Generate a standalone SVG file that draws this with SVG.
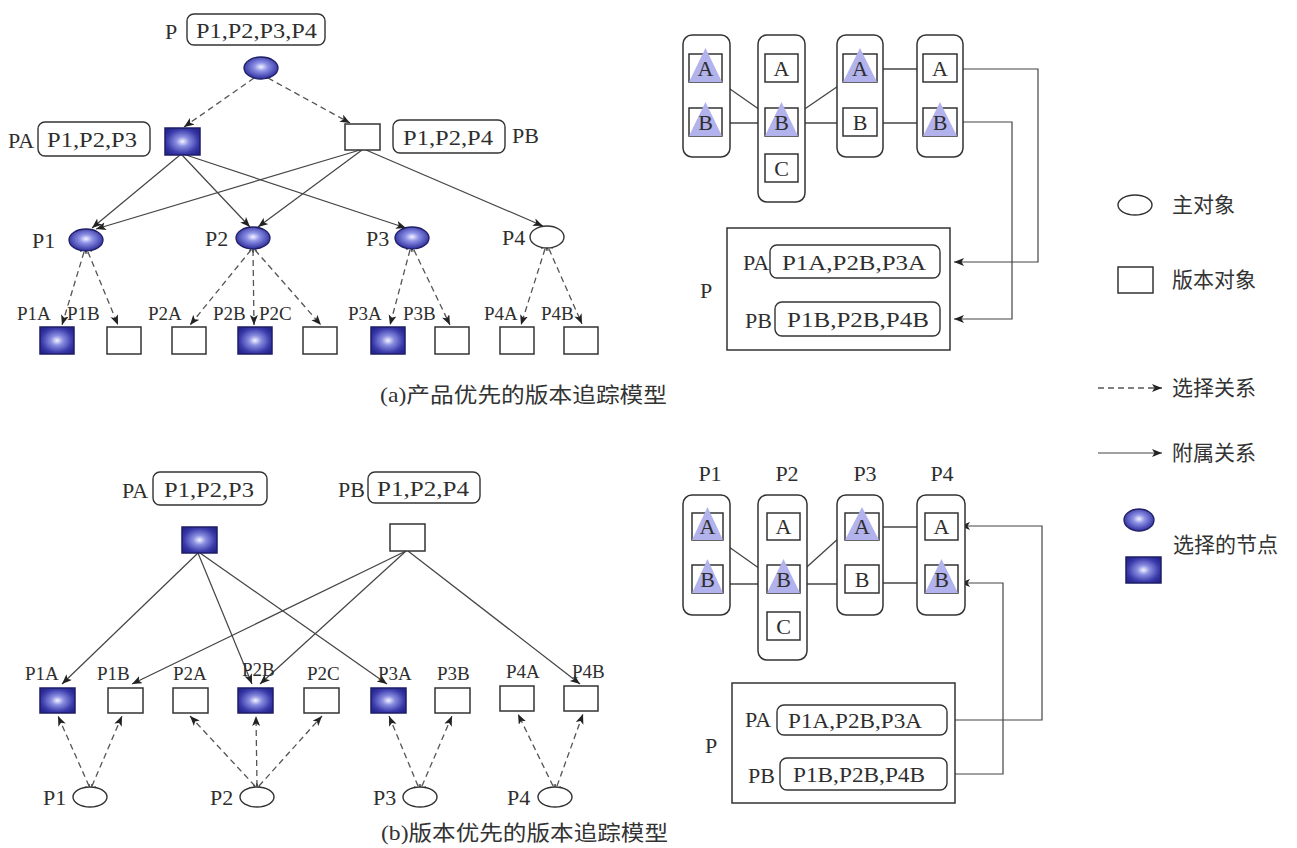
<svg xmlns="http://www.w3.org/2000/svg" width="1297" height="848" viewBox="0 0 1297 848">
<defs>
<style>
.t{font-family:"Liberation Serif","Noto Sans CJK SC",serif;fill:#2e2e2e}
.lb{font-size:19px}
.bx{font-size:22px}
.cn{font-family:"Liberation Serif","Noto Sans CJK SC",sans-serif;font-size:21px;fill:#333}
.m{text-anchor:middle}
.vb{fill:#fff;stroke:#333;stroke-width:1.5}
.sr{fill:url(#gR);stroke:#1e1e66;stroke-width:1.5}
.se{fill:url(#gE);stroke:#1e1e66;stroke-width:1.3}
.we{fill:#fff;stroke:#333;stroke-width:1.4}
.rb{fill:none;stroke:#333;stroke-width:1.4}
.col{fill:#fff;stroke:#333;stroke-width:1.5}
.tri{fill:#b2b2ec}
.sl{fill:none;stroke:#444;stroke-width:1.2;marker-end:url(#ar)}
.dl{fill:none;stroke:#555;stroke-width:1.3;stroke-dasharray:6 4;marker-end:url(#ar)}
.db{fill:none;stroke:#555;stroke-width:1.3;stroke-dasharray:6 4;marker-end:url(#ar);marker-start:url(#ca)}
.ln{fill:none;stroke:#444;stroke-width:1.3}
.pl{fill:none;stroke:#444;stroke-width:1.2;marker-end:url(#ar)}
</style>
<radialGradient id="gE" cx="50%" cy="45%" r="55%">
<stop offset="0" stop-color="#f4f4ff"/><stop offset="0.35" stop-color="#8e92e6"/><stop offset="1" stop-color="#2c2c9c"/>
</radialGradient>
<radialGradient id="gR" cx="50%" cy="50%" r="60%">
<stop offset="0" stop-color="#f4f4ff"/><stop offset="0.3" stop-color="#8a8ee0"/><stop offset="0.75" stop-color="#3a3aaa"/><stop offset="1" stop-color="#26268e"/>
</radialGradient>
<marker id="ar" markerUnits="userSpaceOnUse" markerWidth="11" markerHeight="9" refX="10" refY="4" orient="auto">
<path d="M0,0 L10,4 L0,8 L2.5,4 z" fill="#222"/>
</marker>
<marker id="ca" markerUnits="userSpaceOnUse" markerWidth="9" markerHeight="8" refX="1" refY="3.5" orient="auto-start-reverse">
<path d="M0,0 L7,3.5 L0,7" fill="none" stroke="#444" stroke-width="1"/>
</marker>
</defs>
<rect width="1297" height="848" fill="#fff"/>

<!-- connectors -->
<g id="connectors">
<!-- (a) left -->
<line class="dl" x1="254" y1="78" x2="184" y2="127"/>
<line class="dl" x1="268" y1="78" x2="350" y2="123"/>
<line class="sl" x1="180" y1="155" x2="92" y2="228"/>
<line class="sl" x1="182" y1="155" x2="250" y2="227"/>
<line class="sl" x1="186" y1="155" x2="406" y2="228"/>
<line class="sl" x1="360" y1="150" x2="96" y2="229"/>
<line class="sl" x1="362" y1="150" x2="258" y2="227"/>
<line class="sl" x1="366" y1="150" x2="543" y2="226"/>
<line class="db" x1="84" y1="252" x2="62" y2="325"/>
<line class="db" x1="88" y1="252" x2="118" y2="325"/>
<line class="db" x1="251" y1="250" x2="190" y2="325"/>
<line class="db" x1="253" y1="250" x2="254" y2="325"/>
<line class="db" x1="255" y1="250" x2="321" y2="325"/>
<line class="db" x1="410" y1="250" x2="390" y2="325"/>
<line class="db" x1="414" y1="250" x2="450" y2="325"/>
<line class="db" x1="545" y1="249" x2="521" y2="325"/>
<line class="db" x1="549" y1="249" x2="582" y2="324"/>
<!-- (a) right -->
<line class="ln" x1="720" y1="82" x2="770" y2="117"/>
<line class="ln" x1="720" y1="123" x2="767" y2="123"/>
<line class="ln" x1="793" y1="117" x2="847" y2="80"/>
<line class="ln" x1="797" y1="123" x2="845" y2="123"/>
<line class="ln" x1="877" y1="123" x2="925" y2="123"/>
<line class="ln" x1="875" y1="69" x2="925" y2="69"/>
<polyline class="pl" points="957,69 1038,69 1038,262 954,262"/>
<polyline class="pl" points="957,122 1012,122 1012,319 954,319"/>
<!-- (b) left -->
<line class="sl" x1="198" y1="553" x2="62" y2="684"/>
<line class="sl" x1="198" y1="553" x2="252" y2="684"/>
<line class="sl" x1="200" y1="553" x2="387" y2="684"/>
<line class="sl" x1="406" y1="551" x2="132" y2="684"/>
<line class="sl" x1="406" y1="551" x2="260" y2="684"/>
<line class="sl" x1="408" y1="551" x2="580" y2="684"/>
<line class="db" x1="89" y1="786" x2="58" y2="716"/>
<line class="db" x1="92" y1="786" x2="122" y2="716"/>
<line class="db" x1="255" y1="786" x2="190" y2="716"/>
<line class="db" x1="257" y1="786" x2="256" y2="716"/>
<line class="db" x1="259" y1="786" x2="322" y2="716"/>
<line class="db" x1="418" y1="786" x2="389" y2="716"/>
<line class="db" x1="422" y1="786" x2="452" y2="716"/>
<line class="db" x1="553" y1="786" x2="518" y2="714"/>
<line class="db" x1="557" y1="786" x2="583" y2="714"/>
<!-- (b) right -->
<line class="ln" x1="722" y1="542" x2="770" y2="576"/>
<line class="ln" x1="723" y1="584" x2="767" y2="584"/>
<line class="ln" x1="798" y1="575" x2="850" y2="528"/>
<line class="ln" x1="800" y1="584" x2="846" y2="584"/>
<line class="ln" x1="879" y1="583" x2="925" y2="583"/>
<line class="ln" x1="878" y1="527" x2="925" y2="527"/>
<polyline class="pl" points="947,720 1042,720 1042,526 960,526"/>
<polyline class="pl" points="947,774 1003,774 1003,583 960,583"/>
</g>

<!-- (a) left nodes -->
<g id="a-P"><text class="t bx" x="165" y="39">P</text><rect class="rb" x="187" y="14" width="138" height="31" rx="7"/><text class="t bx" x="196" y="38" textLength="121" lengthAdjust="spacingAndGlyphs">P1,P2,P3,P4</text><ellipse class="se" cx="261" cy="68" rx="17" ry="11"/></g>
<g id="a-PA"><text class="t bx" x="8" y="148">PA</text><rect class="rb" x="38" y="122" width="112" height="34" rx="7"/><text class="t bx" x="47" y="147" textLength="90" lengthAdjust="spacingAndGlyphs">P1,P2,P3</text><rect class="sr" x="165" y="128" width="35" height="27"/></g>
<g id="a-PB"><rect class="vb" x="345" y="124" width="35" height="26"/><rect class="rb" x="393" y="120" width="112" height="33" rx="7"/><text class="t bx" x="403" y="145" textLength="90" lengthAdjust="spacingAndGlyphs">P1,P2,P4</text><text class="t bx" x="512" y="143">PB</text></g>
<g id="a-P1"><text class="t bx" x="32" y="248">P1</text><ellipse class="se" cx="86" cy="240" rx="17" ry="11"/></g>
<g id="a-P2"><text class="t bx" x="205" y="246">P2</text><ellipse class="se" cx="253" cy="238" rx="17" ry="11"/></g>
<g id="a-P3"><text class="t bx" x="366" y="246">P3</text><ellipse class="se" cx="412" cy="238" rx="17" ry="11"/></g>
<g id="a-P4"><text class="t bx" x="502" y="245">P4</text><ellipse class="we" cx="547" cy="237" rx="17" ry="11"/></g>
<g id="a-P1A"><text class="t lb" x="17" y="320">P1A</text><rect class="sr" x="40" y="327" width="34" height="27"/></g>
<g id="a-P1B"><text class="t lb" x="67" y="320">P1B</text><rect class="vb" x="107" y="327" width="34" height="27"/></g>
<g id="a-P2A"><text class="t lb" x="148" y="320">P2A</text><rect class="vb" x="172" y="327" width="34" height="27"/></g>
<g id="a-P2B"><text class="t lb" x="213" y="320">P2B</text><rect class="sr" x="238" y="327" width="34" height="27"/></g>
<g id="a-P2C"><text class="t lb" x="259" y="320">P2C</text><rect class="vb" x="303" y="327" width="34" height="27"/></g>
<g id="a-P3A"><text class="t lb" x="348" y="320">P3A</text><rect class="sr" x="371" y="327" width="34" height="27"/></g>
<g id="a-P3B"><text class="t lb" x="403" y="320">P3B</text><rect class="vb" x="435" y="327" width="34" height="27"/></g>
<g id="a-P4A"><text class="t lb" x="484" y="320">P4A</text><rect class="vb" x="500" y="327" width="34" height="27"/></g>
<g id="a-P4B"><text class="t lb" x="541" y="320">P4B</text><rect class="vb" x="564" y="327" width="34" height="27"/></g>
<text class="cn" x="380" y="402" textLength="287" lengthAdjust="spacingAndGlyphs">(a)产品优先的版本追踪模型</text>

<!-- (a) right -->
<g id="a-col1"><text class="t bx m" x="708" y="53">P1</text><rect class="col" x="683" y="35" width="47" height="122" rx="9"/>
<rect class="vb" x="689" y="54" width="33" height="28"/><polygon class="tri" points="705.5,48 689,82 722,82"/><text class="t bx m" x="705.5" y="76">A</text>
<rect class="vb" x="689" y="108" width="33" height="28"/><polygon class="tri" points="705.5,102 689,136 722,136"/><text class="t bx m" x="705.5" y="130">B</text></g>
<g id="a-col2"><text class="t bx m" x="783" y="53">P2</text><rect class="col" x="758" y="35" width="47" height="167" rx="9"/>
<rect class="vb" x="765" y="54" width="33" height="28"/><text class="t bx m" x="781.5" y="76">A</text>
<rect class="vb" x="765" y="108" width="33" height="28"/><polygon class="tri" points="781.5,102 765,136 798,136"/><text class="t bx m" x="781.5" y="130">B</text>
<rect class="vb" x="765" y="154" width="33" height="28"/><text class="t bx m" x="781.5" y="176">C</text></g>
<g id="a-col3"><text class="t bx m" x="861" y="53">P3</text><rect class="col" x="837" y="35" width="46" height="122" rx="9"/>
<rect class="vb" x="843" y="54" width="34" height="28"/><polygon class="tri" points="860,48 843,82 877,82"/><text class="t bx m" x="860" y="76">A</text>
<rect class="vb" x="843" y="108" width="34" height="28"/><text class="t bx m" x="860" y="130">B</text></g>
<g id="a-col4"><text class="t bx m" x="940" y="53">P4</text><rect class="col" x="917" y="35" width="46" height="122" rx="9"/>
<rect class="vb" x="923" y="54" width="34" height="28"/><text class="t bx m" x="940" y="76">A</text>
<rect class="vb" x="923" y="108" width="34" height="28"/><polygon class="tri" points="940,102 923,136 957,136"/><text class="t bx m" x="940" y="130">B</text></g>
<g id="a-Pbox"><rect class="vb" x="727" y="228" width="223" height="122"/><text class="t bx" x="700" y="298">P</text>
<text class="t bx" x="743" y="270">PA</text><rect class="rb" x="770" y="245" width="170" height="33" rx="7"/><text class="t bx" x="782" y="270" textLength="144" lengthAdjust="spacingAndGlyphs">P1A,P2B,P3A</text>
<text class="t bx" x="745" y="328">PB</text><rect class="rb" x="775" y="302" width="165" height="34" rx="7"/><text class="t bx" x="787" y="327" textLength="142" lengthAdjust="spacingAndGlyphs">P1B,P2B,P4B</text></g>

<!-- legend -->
<g id="legend">
<ellipse class="we" cx="1135" cy="205" rx="17" ry="10"/><text class="cn" x="1172" y="212">主对象</text>
<rect class="vb" x="1118" y="267" width="35" height="26"/><text class="cn" x="1172" y="287">版本对象</text>
<line class="dl" x1="1098" y1="388" x2="1162" y2="388"/><text class="cn" x="1172" y="395">选择关系</text>
<line class="sl" x1="1098" y1="453" x2="1162" y2="453"/><text class="cn" x="1172" y="460">附属关系</text>
<ellipse class="se" cx="1139" cy="520" rx="15" ry="11"/><rect class="sr" x="1126" y="557" width="35" height="26"/><text class="cn" x="1173" y="552">选择的节点</text>
</g>

<!-- (b) left -->
<g id="b-PA"><text class="t bx" x="122" y="498">PA</text><rect class="rb" x="153" y="472" width="114" height="33" rx="7"/><text class="t bx" x="164" y="497" textLength="90" lengthAdjust="spacingAndGlyphs">P1,P2,P3</text><rect class="sr" x="182" y="527" width="35" height="26"/></g>
<g id="b-PB"><text class="t bx" x="338" y="497">PB</text><rect class="rb" x="368" y="472" width="112" height="31" rx="7"/><text class="t bx" x="377" y="496" textLength="92" lengthAdjust="spacingAndGlyphs">P1,P2,P4</text><rect class="vb" x="390" y="524" width="35" height="27"/></g>
<g id="b-P1A"><text class="t lb" x="25" y="680">P1A</text><rect class="sr" x="40" y="688" width="35" height="25"/></g>
<g id="b-P1B"><text class="t lb" x="97" y="680">P1B</text><rect class="vb" x="108" y="688" width="35" height="25"/></g>
<g id="b-P2A"><text class="t lb" x="173" y="680">P2A</text><rect class="vb" x="173" y="688" width="35" height="25"/></g>
<g id="b-P2B"><text class="t lb" x="242" y="676">P2B</text><rect class="sr" x="238" y="688" width="35" height="25"/></g>
<g id="b-P2C"><text class="t lb" x="307" y="680">P2C</text><rect class="vb" x="304" y="688" width="35" height="25"/></g>
<g id="b-P3A"><text class="t lb" x="378" y="680">P3A</text><rect class="sr" x="371" y="688" width="35" height="25"/></g>
<g id="b-P3B"><text class="t lb" x="437" y="680">P3B</text><rect class="vb" x="435" y="688" width="35" height="25"/></g>
<g id="b-P4A"><text class="t lb" x="506" y="678">P4A</text><rect class="vb" x="500" y="686" width="34" height="25"/></g>
<g id="b-P4B"><text class="t lb" x="572" y="678">P4B</text><rect class="vb" x="564" y="686" width="34" height="25"/></g>
<g id="b-P1"><text class="t bx" x="43" y="805">P1</text><ellipse class="we" cx="90" cy="797" rx="17" ry="10"/></g>
<g id="b-P2"><text class="t bx" x="210" y="805">P2</text><ellipse class="we" cx="257" cy="797" rx="17" ry="10"/></g>
<g id="b-P3"><text class="t bx" x="373" y="805">P3</text><ellipse class="we" cx="420" cy="797" rx="17" ry="10"/></g>
<g id="b-P4"><text class="t bx" x="507" y="805">P4</text><ellipse class="we" cx="555" cy="797" rx="17" ry="10"/></g>
<text class="cn" x="381" y="840" textLength="287" lengthAdjust="spacingAndGlyphs">(b)版本优先的版本追踪模型</text>

<!-- (b) right -->
<g id="b-col1"><text class="t bx m" x="710" y="481">P1</text><rect class="col" x="683" y="495" width="47" height="120" rx="9"/>
<rect class="vb" x="692" y="513" width="31" height="27"/><polygon class="tri" points="707.5,507 692,540 723,540"/><text class="t bx m" x="707.5" y="534">A</text>
<rect class="vb" x="692" y="565" width="31" height="28"/><polygon class="tri" points="707.5,559 692,593 723,593"/><text class="t bx m" x="707.5" y="587">B</text></g>
<g id="b-col2"><text class="t bx m" x="787" y="481">P2</text><rect class="col" x="758" y="495" width="49" height="165" rx="9"/>
<rect class="vb" x="767" y="513" width="33" height="27"/><text class="t bx m" x="783.5" y="534">A</text>
<rect class="vb" x="767" y="565" width="33" height="28"/><polygon class="tri" points="783.5,559 767,593 800,593"/><text class="t bx m" x="783.5" y="587">B</text>
<rect class="vb" x="767" y="612" width="33" height="28"/><text class="t bx m" x="783.5" y="634">C</text></g>
<g id="b-col3"><text class="t bx m" x="865" y="481">P3</text><rect class="col" x="837" y="495" width="46" height="120" rx="9"/>
<rect class="vb" x="845" y="513" width="34" height="27"/><polygon class="tri" points="862,507 845,540 879,540"/><text class="t bx m" x="862" y="534">A</text>
<rect class="vb" x="845" y="565" width="34" height="28"/><text class="t bx m" x="862" y="587">B</text></g>
<g id="b-col4"><text class="t bx m" x="942" y="481">P4</text><rect class="col" x="917" y="495" width="48" height="120" rx="9"/>
<rect class="vb" x="925" y="513" width="33" height="27"/><text class="t bx m" x="941.5" y="534">A</text>
<rect class="vb" x="925" y="565" width="33" height="28"/><polygon class="tri" points="941.5,559 925,593 958,593"/><text class="t bx m" x="941.5" y="587">B</text></g>
<g id="b-Pbox"><rect class="vb" x="732" y="683" width="223" height="120"/><text class="t bx" x="705" y="753">P</text>
<text class="t bx" x="745" y="727">PA</text><rect class="rb" x="777" y="705" width="170" height="30" rx="7"/><text class="t bx" x="788" y="728" textLength="134" lengthAdjust="spacingAndGlyphs">P1A,P2B,P3A</text>
<text class="t bx" x="748" y="783">PB</text><rect class="rb" x="780" y="758" width="167" height="32" rx="7"/><text class="t bx" x="793" y="782" textLength="132" lengthAdjust="spacingAndGlyphs">P1B,P2B,P4B</text></g>
</svg>
